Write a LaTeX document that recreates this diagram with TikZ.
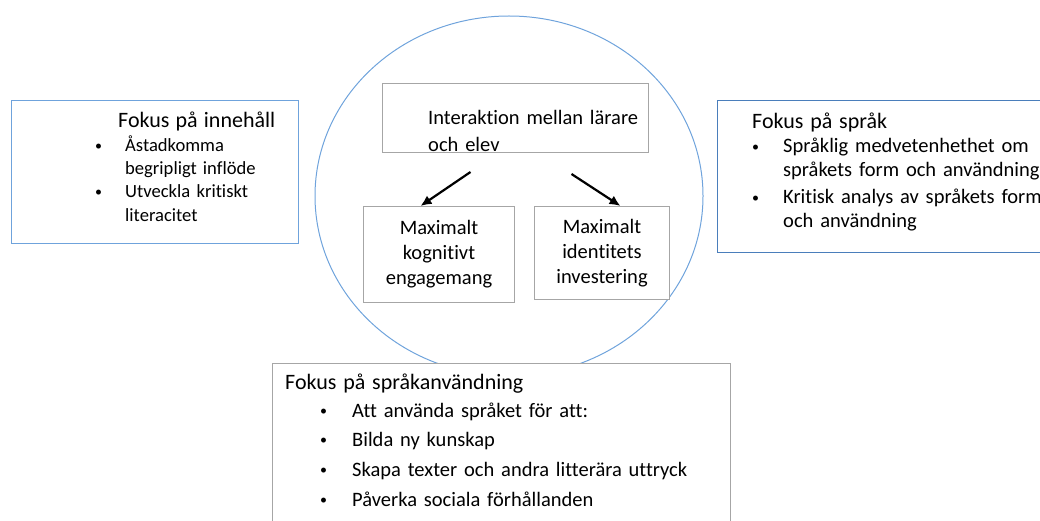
\documentclass[tikz,border=0pt]{standalone}
\usepackage{fontspec}
\setmainfont{Carlito}[Ligatures=NoCommon]
\usetikzlibrary{positioning,arrows.meta,shapes.geometric}
\definecolor{RandBlau}{HTML}{6FA3DC}
\definecolor{RandDunkel}{HTML}{4A7EBB}
\definecolor{RandGrau}{HTML}{A6A6A6}
\newcommand{\punkt}[1]{\makebox[#1][l]{\raisebox{1.2pt}{\fontsize{14}{14}\selectfont\textbullet}}}

\begin{document}
\begin{tikzpicture}[x=1pt,y=-1pt,>={Latex[length=11pt,width=10pt]}]
      \tikzstyle{ram}=[draw,rectangle,inner sep=0pt,anchor=north west,line width=1pt]
      \tikzstyle{txt}=[anchor=base west,inner sep=0pt,align=left]
      \tikzstyle{grau}=[ram,draw=RandGrau,fill=white]
      \useasboundingbox (0,0) rectangle (1040,521);
      \clip (0,0) rectangle (1040,521);
      % mitte: kreis mit interaktion
      \node[draw=RandBlau,ellipse,line width=1pt,minimum width=388,minimum height=360,inner sep=0pt] (kreis) at (509,196) {};
      \node[grau,minimum width=266,minimum height=69] (inter) at (382,83) {};
      \node[txt,text width=230,font=\fontsize{20.5}{27}\selectfont] (interT) at (428,125) {Interaktion mellan lärare\\och elev};
      \node[grau,anchor=north west,minimum width=151,minimum height=96,align=center,font=\fontsize{20.5}{25}\selectfont] (maxkog) at (363,206) {Maximalt\\kognitivt\\engagemang};
      \node[grau,anchor=north west,minimum width=135,minimum height=93,align=center,font=\fontsize{20.5}{25}\selectfont] (maxid) at (534,206) {Maximalt\\identitets\\investering};
      \draw[->,line width=2.2pt] ([xshift=-45pt,yshift=-19pt]inter.south) -- ([xshift=-18.5pt]maxkog.north);
      \draw[->,line width=2.2pt] ([xshift=56pt,yshift=-21pt]inter.south) -- ([xshift=18.5pt]maxid.north);
      % links: innehall
      \node[ram,draw=RandBlau,minimum width=287,minimum height=143] (inneh) at (11,100) {};
      \node[txt,text width=200,font=\fontsize{18.6}{23.3}\selectfont] (innehT) at (95,128)
        {\hspace*{23pt}{\fontsize{22}{23.3}\selectfont Fokus på innehåll}\\
         \punkt{30pt}Åstadkomma\\
         \hspace*{30pt}begripligt inflöde\\
         \punkt{30pt}Utveckla kritiskt\\
         \hspace*{30pt}literacitet};
      % rechts: sprak
      \node[ram,draw=RandDunkel,minimum width=400,minimum height=152] (sprak) at (717,100) {};
      \node[txt,text width=320,font=\fontsize{20.5}{24}\selectfont] (sprakT) at (752,129)
        {{\fontsize{22}{24}\selectfont Fokus på språk}\\
         \punkt{31pt}Språklig medvetenhethet om\\
         \hspace*{31pt}språkets form och användning\\[3pt]
         \punkt{31pt}Kritisk analys av språkets form\\
         \hspace*{31pt}och användning};
      % unten: sprakanvandning
      \node[grau,minimum width=458,minimum height=200] (anv) at (272,363) {};
      \node[txt,text width=440,font=\fontsize{20.5}{29}\selectfont] (anvT) at (285,389)
        {{\fontsize{22}{29}\selectfont Fokus på språkanvändning}\\[-1pt]
         \hspace*{35pt}\punkt{32pt}Att använda språket för att:\\
         \hspace*{35pt}\punkt{32pt}Bilda ny kunskap\\[1pt]
         \hspace*{35pt}\punkt{32pt}Skapa texter och andra litterära uttryck\\[1pt]
         \hspace*{35pt}\punkt{32pt}Påverka sociala förhållanden};
    \end{tikzpicture}
\end{document}
